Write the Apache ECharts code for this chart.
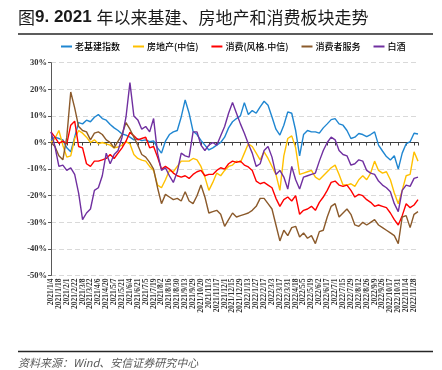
<!DOCTYPE html>
<html><head><meta charset="utf-8">
<script src="https://cdn.jsdelivr.net/npm/echarts@6/dist/echarts.min.js"></script>
<style>html,body{margin:0;padding:0;background:#fff}#c{width:442px;height:370px}</style>
</head><body><div id="c"></div>
<script>
// x-axis tick labels: one every 10 trading days (index 0..460 of 466 trading days)
const dateLabels = ['2021/1/4','2021/1/18','2021/2/1','2021/2/22','2021/3/8','2021/3/22','2021/4/6','2021/4/20','2021/5/7','2021/5/21','2021/6/4','2021/6/21','2021/7/5','2021/7/19','2021/8/2','2021/8/16','2021/8/30','2021/9/13','2021/9/29','2021/10/20','2021/11/3','2021/11/17','2021/12/1','2021/12/15','2021/12/29','2022/1/13','2022/1/27','2022/2/17','2022/3/3','2022/3/17','2022/3/31','2022/4/18','2022/5/5','2022/5/19','2022/6/2','2022/6/17','2022/7/1','2022/7/15','2022/7/29','2022/8/12','2022/8/26','2022/9/9','2022/9/26','2022/10/17','2022/10/31','2022/11/14','2022/11/28'];
const seriesNames = ['老基建指数','房地产(中信)','消费(风格.中信)','消费者服务','白酒'];
const LAST_INDEX = 465;   // last trading-day index
const STEP = 5;           // values read every 5 trading days

// cumulative change since 2021 start (%)
const laoJiJian = [1,2,1.5,1,-2,-3.5,2,7.5,7,8.4,7.8,9.5,10.5,9,8.4,6.8,5.5,4.5,3.2,2.8,2,1,1.4,0.7,1,0.3,0.6,-2,-4,0.5,3,4,
4.5,9.6,16,11,4.2,3,0.8,-1,-2.8,-2,-1,0,2,5.5,7.8,9,10,15,10.5,12,11,13.4,15.5,14,9.6,5,2.8,6.5,11.5,11,4.5,
-5,3,4.5,4,4,3.5,5.5,7,8.6,9,7,6.5,4.5,1.5,2,3.4,3,2.2,3,4,-1,-3.2,-5.3,-6.6,-5,-10,-4,-0.5,0.3,3.5,3.2];
const fangDiChan = [0,1.5,4.5,-1,-5.5,-5,1.5,4.5,3.5,2,0,1,-0.5,0,-0.5,-1,-2,-1.7,-1,0.3,-0.5,-4.5,-6,-6.6,-7,-9,-10.5,-16,-17,-14,-10.5,-11,
-9,-7,-7,-7,-6,-6.5,-9,-13,-18,-15,-11.5,-12.5,-10.5,-9,-8.5,-7,-7.5,-4,-0.5,-1.5,-4,-6.5,-3.5,-6,-9,-12,-18,-5,1.5,2.5,-2,
-12,-11.5,-11,-10.5,-13,-14,-12.5,-11,-9.5,-8.5,-12,-16,-16,-15.5,-16.5,-14,-12.5,-14,-11.5,-7,-10.5,-11.5,-11,-14,-19,-23,-18,-12.5,-12,-3.5,-7];
const xiaoFei = [4,2,-0.3,0.5,-0.5,6.5,8,-1.5,-2,-8,-9,-7,-7,-6.5,-6,-4.5,-6,-4,-2,0.5,3.8,2.5,1,1.5,2,-2,-1.5,-5.5,-10,-9,-10,-11.5,
-12.5,-13,-12.5,-13.5,-12,-11,-10.5,-12.5,-12,-12,-10.5,-9.5,-10,-8,-7,-7.5,-7,-8.5,-9.2,-10.5,-14.5,-15.5,-15,-16,-17,-21,-24,-21.5,-20.5,-22,-20,
-27,-25.5,-25,-24,-25.5,-22.5,-20.5,-18,-15,-14.5,-16,-16.5,-16,-18,-20.5,-19.5,-20,-21.5,-22.5,-24,-23.5,-24,-24.5,-26.5,-29,-31,-27.5,-23,-24.5,-23.5,-21.5];
const xiaoFeiZheFuWu = [0,-1.5,-5,-6.5,2,19,13,6,4.5,4,1,3.5,4,3,1,0,-2,0.5,3,7.5,5,2,-1,-4.5,-5.5,-7.5,-10,-17,-23,-19.5,-20.5,-21.5,
-21,-22,-18.5,-22,-23,-20,-16,-20.5,-26.5,-26,-25.5,-27,-31.5,-29,-26.5,-28,-27.5,-27,-26.5,-25.5,-24,-21,-21,-23,-25,-31,-37,-33,-35,-32,-31.5,
-35.5,-34,-36,-35,-38,-33.5,-33,-28,-24,-23,-28,-26.5,-25,-27,-31,-31.5,-30,-31,-30,-29,-31,-32,-33,-34,-35,-38,-28,-27.5,-32,-27,-26];
const baiJiu = [4,-1.5,-9,-8.5,-10.5,-9.5,-12,-19,-29,-26.5,-25,-18,-17,-12.5,-4,-8,-4.5,-3,2,9.5,22.5,10,8.5,5,6,4,9,-4,-10.5,-9.5,-12.5,-15,
-11,-4,-5,-5.5,4,4,-1,-3,-1,0,-1,2.5,6,11,15,11,7,3.5,-0.5,-4,-9,-8,-3,-1.5,-5.5,-12,-10.5,-13,-17.5,-9,-14,
-17.5,-13,-12.5,-12,-11.5,-7,-3,0,2,1,-3,-4.5,-5,-8.5,-8,-6.5,-7,-10.5,-11.5,-12,-14.5,-16,-17,-18.5,-23,-26,-18,-16,-16.5,-13.5,-13];

const seriesValues = [laoJiJian, fangDiChan, xiaoFei, xiaoFeiZheFuWu, baiJiu];
const colors = ['#1f86d1','#ffc000','#ff0000','#8b5a2b','#7030a0'];

const chart = echarts.init(document.getElementById('c'), null, {renderer:'canvas'});
const option = {
  animation: false,
  backgroundColor: '#fff',
  grid: {left: 51, right: 24, top: 62.7, bottom: 94.5, outerBoundsMode: 'none'},
  legend: {
    left: 61, top: 42, padding: 0, icon: 'rect', itemWidth: 11, itemHeight: 2, itemGap: 13,
    textStyle: {fontSize: 9, color: '#000', fontFamily: 'Noto Sans CJK SC', fontWeight: 500, padding: [0,0,0,-2]},
    data: seriesNames
  },
  xAxis: [
    {
      type: 'value', min: 0, max: LAST_INDEX, interval: 10, position: 'bottom',
      axisLine: {show: false, onZero: false}, axisTick: {show: false}, splitLine: {show: false},
      axisLabel: {
        rotate: 90, margin: 3, fontFamily: 'Liberation Serif', fontWeight: 'bold', fontSize: 7.5, color: '#333',
        showMaxLabel: false,
        formatter: v => (v % 10 === 0 && dateLabels[v / 10]) ? dateLabels[v / 10] : ''
      }
    },
    {
      type: 'value', min: 0, max: LAST_INDEX, interval: 10, position: 'top',
      axisLine: {show: true, onZero: true, lineStyle: {color: '#404040', width: 1}},
      axisTick: {show: true, inside: true, length: 3, lineStyle: {color: '#404040'}},
      axisLabel: {show: false}, splitLine: {show: false}
    }
  ],
  yAxis: {
    type: 'value', min: -50, max: 30, interval: 10,
    axisLine: {show: true, onZero: false, lineStyle: {color: '#595959'}},
    axisTick: {show: true, length: 3, lineStyle: {color: '#595959'}},
    axisLabel: {formatter: '{value}%', fontFamily: 'Liberation Serif', fontWeight: 'bold', fontSize: 8.5, color: '#333', margin: 4},
    splitLine: {show: true, lineStyle: {color: '#d9d9d9', type: [5, 3]}}
  },
  series: seriesNames.map((name, s) => ({
    name, type: 'line', xAxisIndex: 0, showSymbol: false, symbol: 'none',
    color: colors[s],
    lineStyle: {width: 1.4, color: colors[s]},
    data: seriesValues[s].map((v, i) => [i * STEP, v])
  })),
  graphic: [
    {type: 'text', x: 18, y: 17.5, style: {
      text: '{a|图}{b|9. 2021 }{a|年以来基建、房地产和消费板块走势}',
      verticalAlign: 'middle',
      rich: {
        a: {fontSize: 17, fontFamily: 'Noto Sans CJK SC', fill: '#1a1a1a', color: '#1a1a1a'},
        b: {fontSize: 17, fontWeight: 'bold', fontFamily: 'Liberation Sans', fill: '#1a1a1a', color: '#1a1a1a'}
      }
    }},
    {type: 'line', shape: {x1: 18, y1: 34, x2: 433, y2: 34}, style: {stroke: '#262626', lineWidth: 1.5}},
    {type: 'line', shape: {x1: 18, y1: 351.5, x2: 433, y2: 351.5}, style: {stroke: '#262626', lineWidth: 1.5}},
    {type: 'text', x: 18, y: 363, style: {
      text: '资料来源：Wind、安信证券研究中心', fontSize: 11, fontStyle: 'italic',
      fontFamily: 'Noto Sans CJK SC', fill: '#595959', verticalAlign: 'middle'
    }}
  ]
};
chart.setOption(option);
</script></body></html>
